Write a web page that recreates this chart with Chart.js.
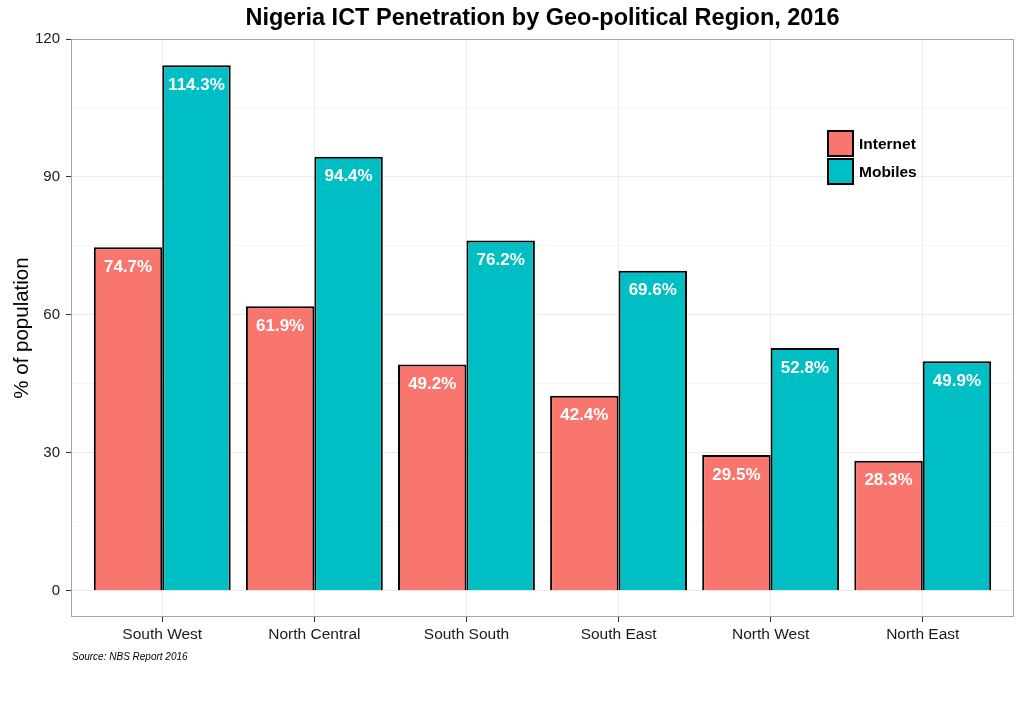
<!DOCTYPE html>
<html>
<head>
<meta charset="utf-8">
<script src="https://cdn.jsdelivr.net/npm/chart.js@4"></script>
<style>
  html, body { margin: 0; padding: 0; background: #fff; }
  #wrap { width: 1024px; height: 706px; }
</style>
</head>
<body>
<div id="wrap"><canvas id="grafico" width="1024" height="706"></canvas></div>
<script>
// dados do gráfico
const regioes = ["South West", "North Central", "South South", "South East", "North West", "North East"];
const internet = [74.7, 61.9, 49.2, 42.4, 29.5, 28.3];
const mobiles = [114.3, 94.4, 76.2, 69.6, 52.8, 49.9];
const ticksY = [0, 30, 60, 90, 120];
const ticksMenoresY = [15, 45, 75, 105];

const fonte = "'Liberation Sans', Arial, sans-serif";

// plugin para título, rótulos, legenda e fonte
const extras = {
    id: "extras",
    afterDraw(chart) {
        const ctx = chart.ctx;
        const area = chart.chartArea;
        ctx.save();

        // borda do painel
        ctx.strokeStyle = "#a6a6a6";
        ctx.lineWidth = 1;
        ctx.strokeRect(area.left + 0.5, area.top + 0.5, area.right - area.left - 1, area.bottom - area.top - 1);

        // rótulos dos valores
        ctx.fillStyle = "#ffffff";
        ctx.font = "bold 17px " + fonte;
        ctx.textAlign = "center";
        ctx.textBaseline = "middle";
        chart.data.datasets.forEach((ds, i) => {
            chart.getDatasetMeta(i).data.forEach((bar, j) => {
                ctx.fillText(ds.data[j].y.toFixed(1) + "%", bar.x, bar.y + 20);
            });
        });

        // título
        ctx.fillStyle = "#000";
        ctx.font = "bold 23.5px " + fonte;
        ctx.fillText("Nigeria ICT Penetration by Geo-political Region, 2016", (area.left + area.right) / 2, 19);

        // título do eixo y
        ctx.save();
        ctx.translate(22, (area.top + area.bottom) / 2);
        ctx.rotate(-Math.PI / 2);
        ctx.font = "20.5px " + fonte;
        ctx.fillText("% of population", 0, 0);
        ctx.restore();

        // fonte dos dados
        ctx.font = "italic 10px " + fonte;
        ctx.textAlign = "left";
        ctx.fillText("Source: NBS Report 2016", 72, 657);

        // legenda
        const lx = 827, ly = 130, tam = 27;
        chart.data.datasets.forEach((ds, i) => {
            const y = ly + i * (tam + 1);
            ctx.fillStyle = ds.backgroundColor;
            ctx.fillRect(lx, y, tam, tam);
            ctx.strokeStyle = "#000";
            ctx.lineWidth = 2;
            ctx.strokeRect(lx + 1, y + 1, tam - 2, tam - 2);
            ctx.fillStyle = "#000";
            ctx.font = "bold 15.5px " + fonte;
            ctx.textBaseline = "middle";
            ctx.fillText(ds.label, lx + tam + 5, y + tam / 2 + 1);
        });

        ctx.restore();
    }
};

const grafico = new Chart(document.getElementById("grafico"), {
    type: "bar",
    data: {
        datasets: [
            {
                label: "Internet",
                data: internet.map((v, i) => ({ x: i + 1, y: v })),
                backgroundColor: "#F8766D",
                borderColor: "#000",
                borderWidth: 2,
                categoryPercentage: 0.9,
                barPercentage: 1
            },
            {
                label: "Mobiles",
                data: mobiles.map((v, i) => ({ x: i + 1, y: v })),
                backgroundColor: "#00BFC4",
                borderColor: "#000",
                borderWidth: 2,
                categoryPercentage: 0.9,
                barPercentage: 1
            }
        ]
    },
    options: {
        responsive: false,
        animation: false,
        layout: { padding: { left: 0, right: 10, top: 39, bottom: 49 } },
        plugins: {
            legend: { display: false },
            tooltip: { enabled: false }
        },
        scales: {
            x: {
                type: "linear",
                min: 0.4,
                max: 6.6,
                offset: false,
                afterBuildTicks: s => { s.ticks = regioes.map((r, i) => ({ value: i + 1 })); },
                afterFit: s => { s.height = 40; },
                ticks: {
                    callback: v => regioes[Math.round(v) - 1] || "",
                    color: "#1a1a1a",
                    font: { family: fonte, size: 15.5 },
                    padding: 3,
                    maxRotation: 0,
                    autoSkip: false
                },
                grid: { offset: false, color: "#ebebeb", tickColor: "#333", tickLength: 5, drawTicks: true },
                border: { display: false }
            },
            y: {
                min: -5.715,
                max: 120.015,
                afterBuildTicks: s => {
                    s.ticks = ticksY.concat(ticksMenoresY).sort((a, b) => a - b).map(v => ({ value: v }));
                },
                afterFit: s => { s.width = 71; },
                ticks: {
                    callback: v => ticksY.includes(v) ? String(v) : "",
                    color: "#1a1a1a",
                    font: { family: fonte, size: 15 },
                    padding: 6
                },
                grid: {
                    color: c => ticksY.includes(c.tick.value) ? "#ebebeb" : "#f5f5f5",
                    tickColor: c => ticksY.includes(c.tick.value) ? "#333" : "rgba(0,0,0,0)",
                    tickLength: 5
                },
                border: { display: false }
            }
        }
    },
    plugins: [extras]
});
</script>
</body>
</html>
